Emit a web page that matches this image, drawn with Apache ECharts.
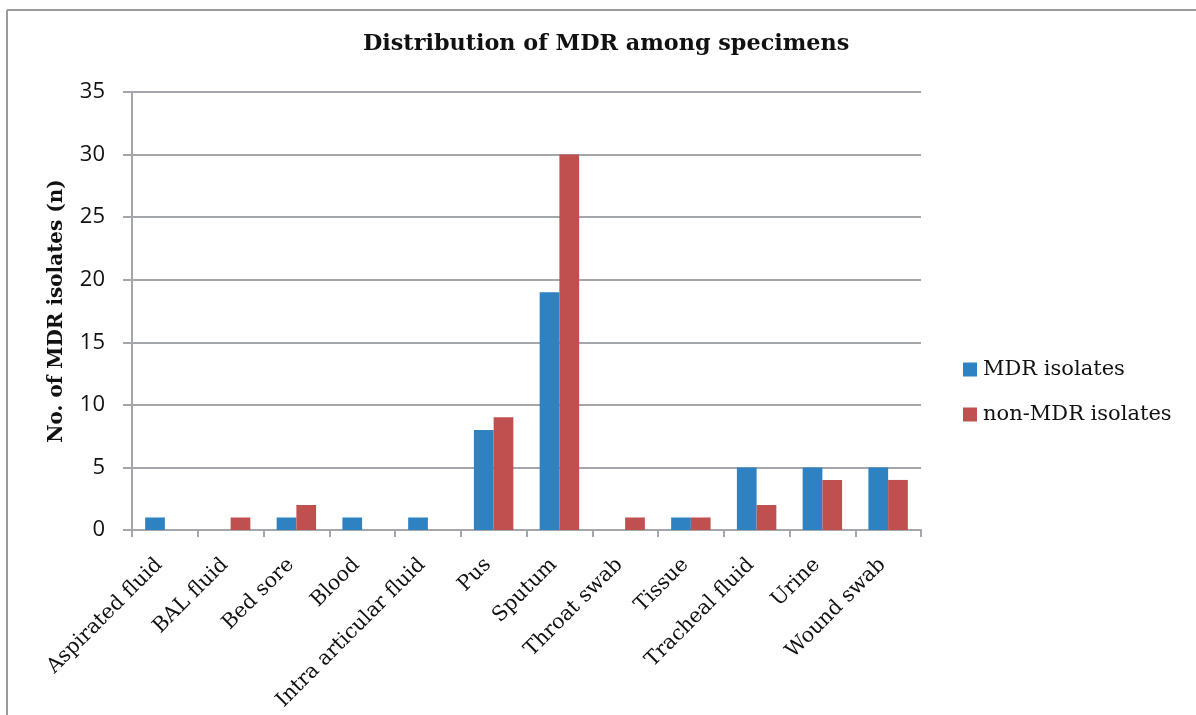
<!DOCTYPE html>
<html>
<head>
<meta charset="utf-8">
<script src="https://cdn.jsdelivr.net/npm/echarts@6/dist/echarts.min.js"></script>
<style>html,body{margin:0;padding:0;background:#fff;}#c{width:1196px;height:715px;}</style>
</head>
<body>
<div id="c"></div>
<script>
const categories = ['Aspirated fluid','BAL fluid','Bed sore','Blood','Intra articular fluid','Pus','Sputum','Throat swab','Tissue','Tracheal fluid','Urine','Wound swab'];
const mdrIsolates = [1,0,1,1,1,8,19,0,1,5,5,5];
const nonMdrIsolates = [0,1,2,0,0,9,30,1,1,2,4,4];
const seriesNames = ['MDR isolates','non-MDR isolates'];
const yTicks = {min:0, max:35, interval:5};

const chart = echarts.init(document.getElementById('c'));
const gridColor = '#A3A7AB';
chart.setOption({
  animation: false,
  backgroundColor: '#fff',
  title: {
    text: 'Distribution of MDR among specimens',
    left: 363, top: 33, padding: 0,
    textStyle: {fontFamily: 'DejaVu Serif', fontWeight: 'bold', fontSize: 22.3, color: '#111'}
  },
  legend: {
    orient: 'vertical', left: 963, top: 359, padding: 0,
    itemWidth: 14, itemHeight: 14, itemGap: 24,
    icon: 'rect',
    textStyle: {fontFamily: 'DejaVu Serif', fontSize: 21, color: '#111', lineHeight: 21, padding: [0,0,0,1]},
    data: seriesNames
  },
  grid: {left: 132, right: 275, top: 92, bottom: 185, containLabel: false, outerBoundsMode: 'none'},
  xAxis: {
    type: 'category', data: categories,
    axisLine: {lineStyle: {color: gridColor, width: 2}},
    axisTick: {show: true, length: 7, lineStyle: {color: gridColor, width: 2}},
    axisLabel: {rotate: 45, margin: 26, interval: 0, hideOverlap: false, padding: [0, 8, 0, 0], fontFamily: 'DejaVu Serif', fontSize: 20.5, color: '#111'}
  },
  yAxis: {
    type: 'value', min: yTicks.min, max: yTicks.max, interval: yTicks.interval,
    name: 'No. of MDR isolates (n)', nameLocation: 'middle', nameGap: 65, nameRotate: 90,
    nameTextStyle: {fontFamily: 'DejaVu Serif', fontWeight: 'bold', fontSize: 20, color: '#111'},
    axisLine: {show: true, lineStyle: {color: gridColor, width: 2}},
    axisTick: {show: true, length: 9, lineStyle: {color: gridColor, width: 2}},
    axisLabel: {margin: 27, fontFamily: 'Open Sans', fontSize: 22, color: '#111'},
    splitLine: {lineStyle: {color: gridColor, width: 2}}
  },
  series: [
    {name: seriesNames[0], type: 'bar', data: mdrIsolates, barGap: '0%', barCategoryGap: '40%', itemStyle: {color: '#2E82C2'}},
    {name: seriesNames[1], type: 'bar', data: nonMdrIsolates, barGap: '0%', barCategoryGap: '40%', itemStyle: {color: '#C0504F'}}
  ],
  graphic: [
    {type: 'line', shape: {x1: 7, y1: 10, x2: 1196, y2: 10}, style: {stroke: '#9A9A9A', lineWidth: 2}},
    {type: 'line', shape: {x1: 7, y1: 10, x2: 7, y2: 715}, style: {stroke: '#9A9A9A', lineWidth: 2}}
  ]
});
</script>
</body>
</html>
